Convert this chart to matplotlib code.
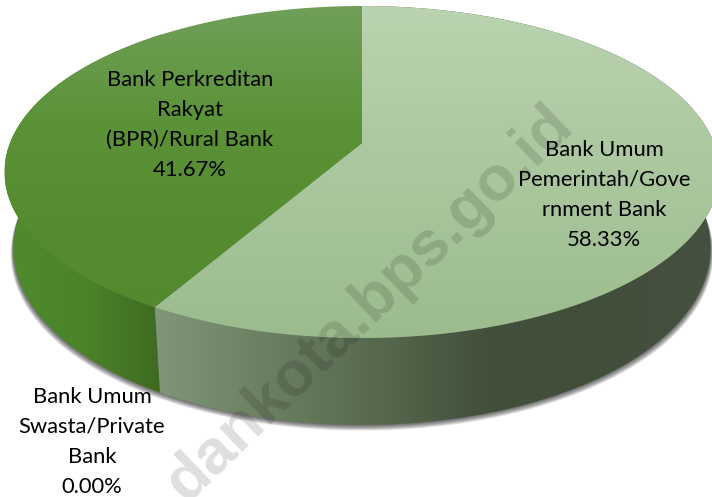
import numpy as np
import matplotlib
matplotlib.use('Agg')
import matplotlib.pyplot as plt
from matplotlib.patches import Polygon
from matplotlib.colors import LinearSegmentedColormap

plt.rcParams['font.family'] = ['Lato', 'DejaVu Sans']

categories = ['Bank Umum\nPemerintah/Gove\nrnment Bank',
              'Bank Umum\nSwasta/Private\nBank',
              'Bank Perkreditan\nRakyat\n(BPR)/Rural Bank']
values = [58.33, 0.00, 41.67]
label_xy = [(604, 195), (92, 442), (190, 125)]
top_colors = [['#bad3b0', '#9bbb8d'], None, ['#709f5a', '#5c9338', '#558c2f', '#528a2d']]
side_colors = [['#7f9678', '#6b8063', '#56694e', '#424f3a', '#414e3a', '#465240'], None,
               ['#4f8c2d', '#4b8329', '#3e6a20']]
side_ranges = [(155, 712), None, (5, 162)]

# perspective of the disc, in pixels
X0, K = 362, 352
C, A, B = 0.1747, -135.95, 143.0


def rim(theta):
    x, y = np.sin(theta), np.cos(theta)
    w = 1 + C * y
    return X0 + K * x / w, (A * y + B) / w


def low_rim(theta):
    X, Y = rim(theta)
    return X0 + (X - X0) * 0.975, Y + 74 - 13 * np.cos(theta)


def gradient(ax, clip, colors, extent, horizontal, z):
    cmap = LinearSegmentedColormap.from_list('g', colors)
    g = np.linspace(0, 1, 256)
    g = g[None, :] if horizontal else g[:, None]
    im = ax.imshow(g, cmap=cmap, extent=extent, aspect='auto', zorder=z, interpolation='bilinear')
    clip.set_transform(ax.transData)
    im.set_clip_path(clip)


fig = plt.figure(figsize=(7.12, 4.97), dpi=100)
ax = fig.add_axes([0, 0, 1, 1])

# soft shadow below the disc
t = np.linspace(0, 2 * np.pi, 500)
lx, ly = low_rim(t)
for k in range(7, 0, -1):
    ax.add_patch(Polygon(np.c_[X0 + (lx - X0) * (1 + k * 0.0011), ly + k * 0.8],
                         fc='black', ec='none', alpha=0.1, zorder=1))

edges = np.r_[0, np.cumsum(values)] / np.sum(values) * 2 * np.pi
for i in range(len(values)):
    if values[i] == 0:
        continue
    th = np.linspace(edges[i], edges[i + 1], 300)
    X, Y = rim(th)
    LX, LY = low_rim(th)
    side = Polygon(np.r_[np.c_[X, Y], np.c_[LX, LY][::-1]])
    x0, x1 = side_ranges[i]
    gradient(ax, side, side_colors[i], (x0, x1, 497, 0), True, 2)

    top = Polygon(np.r_[[[X0, B]], np.c_[X, Y]])
    gradient(ax, top, top_colors[i], (0, 712, 340, 5), False, 3)

# watermark
ax.text(369, 304, 'dankota.bps.go.id', rotation=44, rotation_mode='anchor', ha='center', va='center',
        fontsize=45.5, fontweight='bold', family='Liberation Sans', color='black', alpha=0.13, zorder=4)

for name, v, (tx, ty) in zip(categories, values, label_xy):
    ax.text(tx, ty, f'{name}\n{v:.2f}%', ha='center', va='center', fontsize=15.8,
            linespacing=1.63, color='black', zorder=5)

ax.set_xlim(0, 712)
ax.set_ylim(497, 0)
ax.axis('off')
fig.savefig('out.png', dpi=100)
